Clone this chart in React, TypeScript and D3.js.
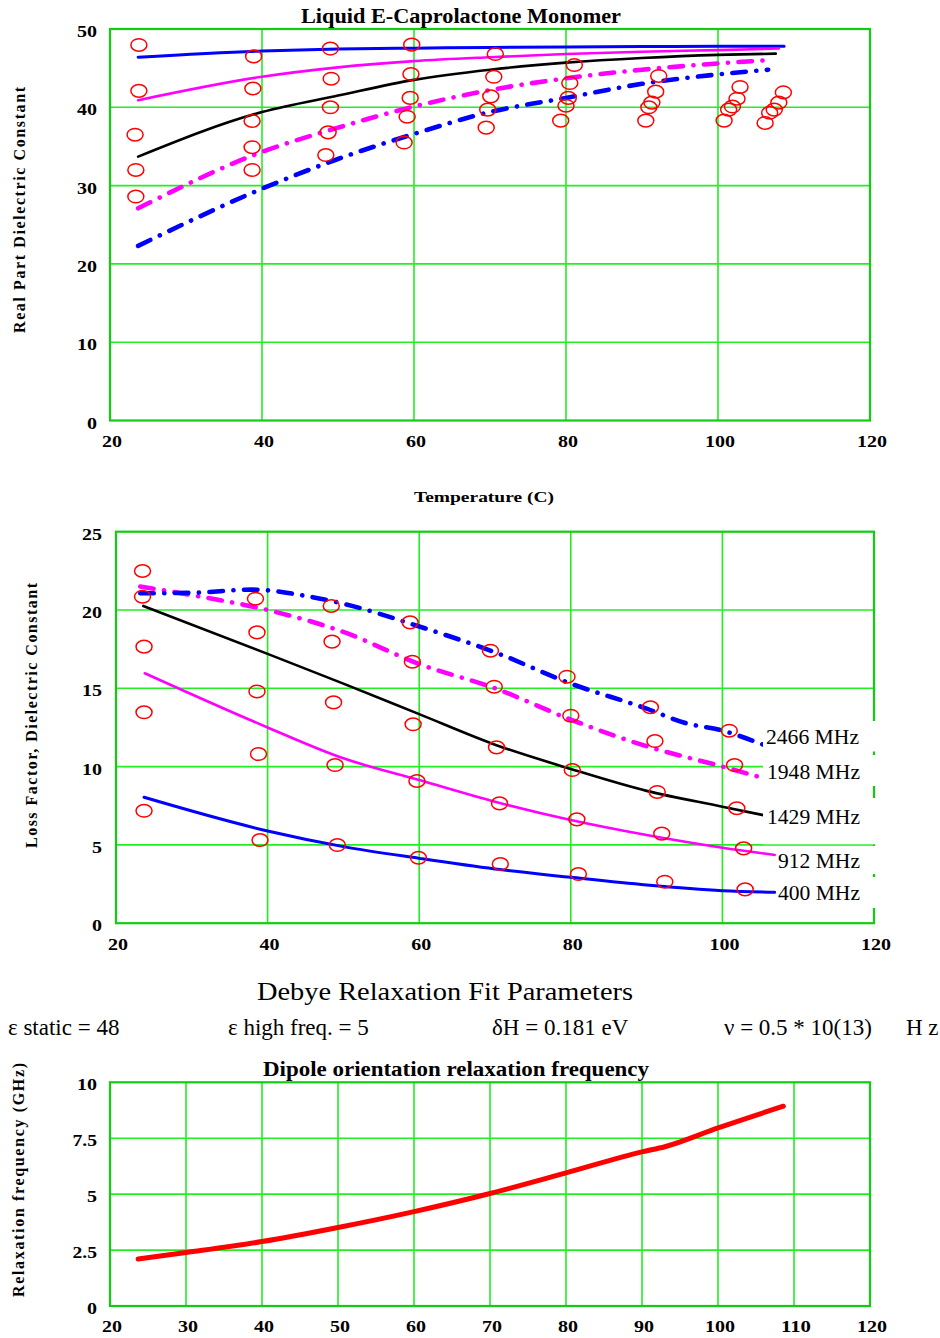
import React from "react";
import * as d3 from "d3";

const FONT = "'Liberation Serif', 'Times New Roman', Times, serif";

// ---------------- Chart 1: Real part dielectric constant ----------------
const tempTicks = [20, 40, 60, 80, 100, 120];
const realTicks = [0, 10, 20, 30, 40, 50];

const real400T = [23.7, 40, 50, 60, 70, 80, 90, 100, 108.7];
const real400V = [46.4, 47.2, 47.45, 47.55, 47.65, 47.7, 47.75, 47.8, 47.8];
const real912T = [23.7, 40, 50, 60, 70, 80, 90, 100, 108.0];
const real912V = [40.9, 43.9, 45.1, 45.9, 46.4, 46.8, 47.1, 47.3, 47.5];
const real1429T = [23.7, 40, 50, 60, 70, 80, 90, 100, 107.6];
const real1429V = [33.7, 39.4, 41.5, 43.5, 44.8, 45.7, 46.3, 46.7, 46.85];
const real1948T = [23.7, 40, 50, 60, 70, 80, 90, 100, 106.3];
const real1948V = [27.1, 34.3, 37.4, 40.1, 42.2, 43.7, 44.8, 45.6, 46.0];
const real2466T = [23.7, 40, 50, 60, 70, 80, 90, 100, 106.6];
const real2466V = [22.3, 29.6, 33.4, 36.6, 39.4, 41.2, 43.0, 44.2, 44.8];

const realPtT = [
  23.8, 23.8, 23.3, 23.4, 23.4,
  38.9, 38.8, 38.7, 38.7, 38.7,
  49.0, 49.1, 49.0, 48.7, 48.4,
  59.7, 59.6, 59.5, 59.1, 58.7,
  70.7, 70.5, 70.1, 69.7, 69.5,
  81.1, 80.5, 80.3, 80.0, 79.3,
  92.2, 91.8, 91.3, 90.9, 90.5,
  102.9, 102.5, 101.9, 101.4, 100.8,
  108.6, 108.0, 107.4, 106.8, 106.2,
];
const realPtV = [
  47.96, 42.1, 36.5, 32.0, 28.6,
  46.5, 42.4, 38.25, 34.9, 32.0,
  47.5, 43.65, 40.0, 36.8, 33.9,
  48.0, 44.25, 41.2, 38.8, 35.5,
  46.8, 43.9, 41.4, 39.7, 37.4,
  45.4, 43.1, 41.2, 40.2, 38.3,
  44.0, 42.0, 40.6, 40.0, 38.3,
  42.6, 41.1, 40.1, 39.7, 38.3,
  41.9, 40.6, 39.7, 39.3, 38.0,
];

// ---------------- Chart 2: Loss factor ----------------
const lossTicks = [0, 5, 10, 15, 20, 25];
const loss400T = [23.7, 40, 50, 60, 70, 80, 90, 100, 106.9];
const loss400V = [8.04, 5.89, 4.89, 4.14, 3.46, 2.93, 2.44, 2.08, 1.97];
const loss912T = [23.8, 40, 50, 60, 70, 80, 90, 100, 106.9];
const loss912V = [15.96, 12.5, 10.53, 9.14, 7.76, 6.59, 5.63, 4.82, 4.36];
const loss1429T = [23.6, 40, 50, 60, 70, 80, 90, 100, 105.4];
const loss1429V = [20.26, 17.2, 15.3, 13.35, 11.4, 9.85, 8.45, 7.44, 6.9];
const loss1948T = [23.2, 30, 40, 50, 60, 70, 80, 90, 100, 104.7];
const loss1948V = [21.5, 20.95, 20.0, 18.6, 16.55, 15.0, 13.0, 11.3, 10.0, 9.36];
const loss2466T = [23.2, 30, 38, 45, 50, 60, 70, 80, 90, 95, 100, 105.4];
const loss2466V = [21.07, 21.1, 21.3, 20.9, 20.4, 18.95, 17.3, 15.3, 13.7, 12.8, 12.3, 11.4];

const lossPtT = [
  23.5, 23.5, 23.7, 23.7, 23.7,
  38.4, 38.6, 38.6, 38.8, 39.0,
  48.4, 48.5, 48.7, 48.9, 49.2,
  58.8, 59.1, 59.2, 59.7, 59.9,
  69.4, 69.9, 70.2, 70.6, 70.7,
  79.5, 80.0, 80.2, 80.8, 81.0,
  90.5, 91.1, 91.4, 92.0, 92.4,
  100.9, 101.6, 101.9, 102.8, 103.0,
];
const lossPtV = [
  22.49, 20.85, 17.66, 13.47, 7.18,
  20.72, 18.57, 14.8, 10.8, 5.31,
  20.26, 17.98, 14.1, 10.1, 4.99,
  19.21, 16.7, 12.7, 9.08, 4.18,
  17.4, 15.1, 11.23, 7.65, 3.78,
  15.74, 13.25, 9.78, 6.63, 3.14,
  13.79, 11.63, 8.38, 5.72, 2.65,
  12.29, 10.1, 7.34, 4.78, 2.16,
];
const freqLabels = ["2466 MHz", "1948 MHz", "1429 MHz", "912 MHz", "400 MHz"];

// ---------------- Debye parameters ----------------
const debyeTitle = "Debye Relaxation Fit Parameters";
const debyeParams = ["ε static = 48", "ε high freq. = 5", "δH = 0.181 eV", "ν = 0.5 * 10(13)", "H z"];

// ---------------- Chart 3: Relaxation frequency ----------------
const relaxTempTicks = [20, 30, 40, 50, 60, 70, 80, 90, 100, 110, 120];
const relaxTicks = [0, 2.5, 5, 7.5, 10];
const relaxT = [23.7, 30, 40, 50, 60, 70, 80, 90, 93, 100, 108.6];
const relaxV = [2.1, 2.39, 2.88, 3.51, 4.22, 5.03, 5.95, 6.89, 7.12, 7.96, 8.93];

// ---------------- styles ----------------
const GRID = "#22ee22";
const FRAME = "#11cc11";
const BLUE = "#0000ff";
const MAGENTA = "#ff00ff";
const DASHDOT = "13.5,10.5,0.1,10.5";

type Style = { color: string; width: number; dash?: string };
const styles: Record<string, Style> = {
  s400: { color: BLUE, width: 3 },
  s912: { color: MAGENTA, width: 2.6 },
  s1429: { color: "#000000", width: 2.6 },
  s1948: { color: MAGENTA, width: 4.6, dash: DASHDOT },
  s2466: { color: BLUE, width: 4.6, dash: DASHDOT },
};

function zip(t: number[], v: number[]): [number, number][] {
  return t.map((d, i) => [d, v[i]]);
}

// approximate rendered width of a bold numeric tick label in the reference
function tickWidth(s: string): number {
  let w = 0;
  for (const c of s) w += c === "." ? 4.5 : 10;
  return w;
}

type Scale = d3.ScaleLinear<number, number>;

function Grid({ x, y, xt, yt }: { x: Scale; y: Scale; xt: number[]; yt: number[] }) {
  const [x0, x1] = x.range();
  const [y0, y1] = y.range();
  return (
    <g>
      {xt.slice(1, -1).map((t) => (
        <line key={"gx" + t} x1={x(t)} x2={x(t)} y1={y0} y2={y1} stroke={GRID} strokeWidth={1.6} />
      ))}
      {yt.slice(1, -1).map((t) => (
        <line key={"gy" + t} x1={x0} x2={x1} y1={y(t)} y2={y(t)} stroke={GRID} strokeWidth={1.6} />
      ))}
      <rect x={x0} y={y1} width={x1 - x0} height={y0 - y1} fill="none" stroke={FRAME} strokeWidth={2.2} />
    </g>
  );
}

function Ticks({
  x, y, xt, yt, yLabelRight, xLabelY, fmtY,
}: {
  x: Scale; y: Scale; xt: number[]; yt: number[]; yLabelRight: number; xLabelY: number; fmtY?: (v: number) => string;
}) {
  return (
    <g fontFamily={FONT} fontWeight="bold" fontSize={16} fill="#000">
      {yt.map((t) => {
        const s = fmtY ? fmtY(t) : String(t);
        return (
          <text key={"ty" + t} x={yLabelRight} y={y(t) + 8} textAnchor="end"
            textLength={tickWidth(s)} lengthAdjust="spacingAndGlyphs">
            {s}
          </text>
        );
      })}
      {xt.map((t) => {
        const s = String(t);
        return (
          <text key={"tx" + t} x={x(t) + 2} y={xLabelY} textAnchor="middle"
            textLength={tickWidth(s)} lengthAdjust="spacingAndGlyphs">
            {s}
          </text>
        );
      })}
    </g>
  );
}

function Curve({ x, y, t, v, st }: { x: Scale; y: Scale; t: number[]; v: number[]; st: Style }) {
  const gen = d3
    .line<[number, number]>()
    .x((d) => x(d[0]))
    .y((d) => y(d[1]))
    .curve(d3.curveMonotoneX);
  return (
    <path
      d={gen(zip(t, v)) || ""}
      fill="none"
      stroke={st.color}
      strokeWidth={st.width}
      strokeDasharray={st.dash}
      strokeLinecap="round"
      strokeLinejoin="round"
    />
  );
}

function Points({ x, y, t, v }: { x: Scale; y: Scale; t: number[]; v: number[] }) {
  return (
    <g>
      {t.map((d, i) => (
        <ellipse key={i} cx={x(d)} cy={y(v[i])} rx={8} ry={6.3} fill="none" stroke="#ff0000" strokeWidth={1.5} />
      ))}
    </g>
  );
}

export default function App() {
  // chart 1
  const x1 = d3.scaleLinear().domain([20, 120]).range([110, 870]);
  const y1 = d3.scaleLinear().domain([0, 50]).range([420.5, 29]);
  // chart 2
  const x2 = d3.scaleLinear().domain([20, 120]).range([116, 874]);
  const y2 = d3.scaleLinear().domain([0, 25]).range([923.2, 531.7]);
  // chart 3
  const x3 = d3.scaleLinear().domain([20, 120]).range([110, 870]);
  const y3 = d3.scaleLinear().domain([0, 10]).range([1306, 1082.3]);

  const relaxLine = d3
    .line<[number, number]>()
    .x((d) => x3(d[0]))
    .y((d) => y3(d[1]))
    .curve(d3.curveMonotoneX);

  // label boxes in chart 2 (pixel layout)
  const boxes = [
    { x: 763, y0: 721, y1: 751.5, tx: 766, ty: 744 },
    { x: 763, y0: 755, y1: 786, tx: 767, ty: 778.5 },
    { x: 763, y0: 798, y1: 844.3, tx: 767, ty: 823.5 },
    { x: 776, y0: 846, y1: 874, tx: 778, ty: 867.5 },
    { x: 776, y0: 877, y1: 908, tx: 778, ty: 900 },
  ];

  const paramX = [8, 228, 492, 724, 906];

  return (
    <svg
      width={940}
      height={1338}
      viewBox="0 0 940 1338"
      style={{ position: "absolute", left: 0, top: 0, background: "#fff" }}
    >
      <rect x={0} y={0} width={940} height={1338} fill="#fff" />

      {/* ---------- Chart 1 ---------- */}
      <text x={461} y={23} textAnchor="middle" fontFamily={FONT} fontWeight="bold" fontSize={21}
        textLength={320} lengthAdjust="spacingAndGlyphs">
        Liquid E-Caprolactone Monomer
      </text>
      <Grid x={x1} y={y1} xt={tempTicks} yt={realTicks} />
      <Ticks x={x1} y={y1} xt={tempTicks} yt={realTicks} yLabelRight={97} xLabelY={447} />
      <Curve x={x1} y={y1} t={real400T} v={real400V} st={styles.s400} />
      <Curve x={x1} y={y1} t={real912T} v={real912V} st={styles.s912} />
      <Curve x={x1} y={y1} t={real1429T} v={real1429V} st={styles.s1429} />
      <Curve x={x1} y={y1} t={real1948T} v={real1948V} st={styles.s1948} />
      <Curve x={x1} y={y1} t={real2466T} v={real2466V} st={styles.s2466} />
      <Points x={x1} y={y1} t={realPtT} v={realPtV} />
      <text transform="translate(25,210) rotate(-90)" textAnchor="middle" fontFamily={FONT}
        fontWeight="bold" fontSize={16} textLength={246} lengthAdjust="spacing">
        Real Part Dielectric Constant
      </text>
      <text x={484} y={502} textAnchor="middle" fontFamily={FONT} fontWeight="bold" fontSize={15}
        textLength={140} lengthAdjust="spacingAndGlyphs">
        Temperature (C)
      </text>

      {/* ---------- Chart 2 ---------- */}
      <Grid x={x2} y={y2} xt={tempTicks} yt={lossTicks} />
      <Ticks x={x2} y={y2} xt={tempTicks} yt={lossTicks} yLabelRight={102} xLabelY={949.5} />
      <Curve x={x2} y={y2} t={loss400T} v={loss400V} st={styles.s400} />
      <Curve x={x2} y={y2} t={loss912T} v={loss912V} st={styles.s912} />
      <Curve x={x2} y={y2} t={loss1429T} v={loss1429V} st={styles.s1429} />
      <Curve x={x2} y={y2} t={loss1948T} v={loss1948V} st={styles.s1948} />
      <Curve x={x2} y={y2} t={loss2466T} v={loss2466V} st={styles.s2466} />
      <Points x={x2} y={y2} t={lossPtT} v={lossPtV} />
      {boxes.map((b, i) => (
        <g key={"box" + i}>
          <rect x={b.x} y={b.y0} width={880 - b.x} height={b.y1 - b.y0} fill="#fff" />
          <text x={b.tx} y={b.ty} fontFamily={FONT} fontSize={21} fill="#000"
            textLength={freqLabels[i].length === 8 ? 93 : 82} lengthAdjust="spacingAndGlyphs">
            {freqLabels[i]}
          </text>
        </g>
      ))}
      <text transform="translate(37,715.5) rotate(-90)" textAnchor="middle" fontFamily={FONT}
        fontWeight="bold" fontSize={16} textLength={265} lengthAdjust="spacing">
        Loss Factor, Dielectric Constant
      </text>

      {/* ---------- Debye parameters ---------- */}
      <text x={445} y={1000} textAnchor="middle" fontFamily={FONT} fontSize={26}
        textLength={376} lengthAdjust="spacingAndGlyphs">
        {debyeTitle}
      </text>
      {debyeParams.map((p, i) => (
        <text key={"p" + i} x={paramX[i]} y={1035} fontFamily={FONT} fontSize={23}>
          {p}
        </text>
      ))}

      {/* ---------- Chart 3 ---------- */}
      <text x={456} y={1076} textAnchor="middle" fontFamily={FONT} fontWeight="bold" fontSize={20}
        textLength={386} lengthAdjust="spacingAndGlyphs">
        Dipole orientation relaxation frequency
      </text>
      <Grid x={x3} y={y3} xt={relaxTempTicks} yt={relaxTicks} />
      <Ticks x={x3} y={y3} xt={relaxTempTicks} yt={relaxTicks} yLabelRight={97} xLabelY={1332}
        fmtY={(v) => (Number.isInteger(v) ? String(v) : v.toFixed(1))} />
      <path d={relaxLine(zip(relaxT, relaxV)) || ""} fill="none" stroke="#ff0000" strokeWidth={5}
        strokeLinecap="round" strokeLinejoin="round" />
      <text transform="translate(24,1180) rotate(-90)" textAnchor="middle" fontFamily={FONT}
        fontWeight="bold" fontSize={16} textLength={234} lengthAdjust="spacing">
        Relaxation frequency (GHz)
      </text>
    </svg>
  );
}
